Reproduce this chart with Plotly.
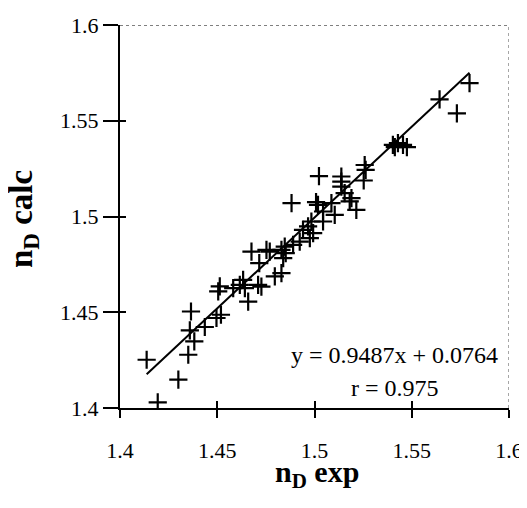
import plotly.graph_objects as go

# Data
nd_exp = [1.4137, 1.4194, 1.4300, 1.4351, 1.4365, 1.4359, 1.4382, 1.4436, 1.4496, 1.4519,
          1.4513, 1.4505, 1.4582, 1.4616, 1.4633, 1.4642, 1.4659, 1.4676, 1.4716, 1.4710,
          1.4727, 1.4753, 1.4770, 1.4796, 1.4830, 1.4830, 1.4847, 1.4852, 1.4839, 1.4882,
          1.4890, 1.4924, 1.4941, 1.4967, 1.4993, 1.4976, 1.4984, 1.5018, 1.5023, 1.5044,
          1.5044, 1.5087, 1.5104, 1.5138, 1.5138, 1.5138, 1.5155, 1.5181, 1.5190, 1.5215,
          1.5253, 1.5258, 1.5263, 1.5403, 1.5413, 1.5429, 1.5455, 1.5475, 1.5643, 1.5732,
          1.5797, 1.5008]
nd_calc = [1.4252, 1.4029, 1.4148, 1.4278, 1.4504, 1.4405, 1.4348, 1.4423, 1.4470, 1.4487,
           1.4635, 1.4609, 1.4626, 1.4643, 1.4669, 1.4626, 1.4556, 1.4817, 1.4757, 1.4643,
           1.4634, 1.4826, 1.4817, 1.4687, 1.4704, 1.4826, 1.4843, 1.4809, 1.4783, 1.5070,
           1.4852, 1.4869, 1.4930, 1.4948, 1.4913, 1.4887, 1.4974, 1.5061, 1.5211, 1.5026,
           1.4974, 1.5070, 1.5009, 1.5209, 1.5182, 1.5156, 1.5122, 1.5079, 1.5096, 1.5035,
           1.5188, 1.5269, 1.5243, 1.5374, 1.5362, 1.5383, 1.5374, 1.5362, 1.5612, 1.5539,
           1.5696, 1.5075]

fit_slope = 0.9487
fit_intercept = 0.0764
fit_x = [1.4137, 1.5797]
fit_y = [fit_slope * v + fit_intercept for v in fit_x]

tick_vals = [1.4, 1.45, 1.5, 1.55, 1.6]
tick_text = ["1.4", "1.45", "1.5", "1.55", "1.6"]

FONT = "Liberation Serif, Times New Roman, serif"

fig = go.Figure()
fig.add_trace(go.Scatter(x=fit_x, y=fit_y, mode="lines",
                         line=dict(color="black", width=2), hoverinfo="skip"))
fig.add_trace(go.Scatter(x=nd_exp, y=nd_calc, mode="markers",
                         marker=dict(symbol="cross-thin", size=13,
                                     line=dict(color="black", width=2.2))))
# dummy trace for the overlay axes (inside tick halves)
fig.add_trace(go.Scatter(x=[1.5], y=[1.5], xaxis="x2", yaxis="y2", mode="markers",
                         marker=dict(opacity=0), hoverinfo="skip"))

fig.add_annotation(x=1.5412, y=1.4278, text="y = 0.9487x + 0.0764", showarrow=False,
                   font=dict(family=FONT, size=24, color="black"), xanchor="center", yanchor="middle")
fig.add_annotation(x=1.5412, y=1.4106, text="r = 0.975", showarrow=False,
                   font=dict(family=FONT, size=24, color="black"), xanchor="center", yanchor="middle")

# axis titles
fig.add_annotation(x=0.507, y=-0.172, xref="paper", yref="paper",
                   text="<b>n<sub>D</sub> exp</b>", showarrow=False,
                   font=dict(family=FONT, size=30, color="black"),
                   xanchor="center", yanchor="middle")
fig.add_annotation(x=-0.2465, y=0.4935, xref="paper", yref="paper",
                   text="<b>n<sub>D</sub> calc</b>", showarrow=False, textangle=-90,
                   font=dict(family=FONT, size=33, color="black"),
                   xanchor="center", yanchor="middle")

# top and right frame (faint dotted)
fig.add_shape(type="line", x0=1.4, x1=1.6, y0=1.6, y1=1.6, xref="x", yref="y",
              line=dict(color="#555", width=1.5, dash="dot"))
fig.add_shape(type="line", x0=1.6, x1=1.6, y0=1.4, y1=1.6, xref="x", yref="y",
              line=dict(color="#888", width=1.5, dash="dot"))

# the page body adds an 8px offset, so the figure is sized/margined to compensate
fig.update_layout(
    width=519, height=500,
    margin=dict(l=112, r=17.5, t=17, b=99.7, autoexpand=False),
    paper_bgcolor="white", plot_bgcolor="white",
    showlegend=False,
    font=dict(family=FONT, size=22, color="black"),
    xaxis=dict(range=[1.4, 1.6], tickvals=tick_vals, ticktext=tick_text, automargin=False,
               showgrid=False, zeroline=False, showline=True, linecolor="black", linewidth=2,
               ticks="outside", ticklen=8, tickwidth=1.5, tickcolor="black",
               ticklabelstandoff=14),
    yaxis=dict(range=[1.4, 1.6], tickvals=tick_vals, ticktext=tick_text, automargin=False,
               showgrid=False, zeroline=False, showline=True, linecolor="black", linewidth=2,
               ticks="outside", ticklen=15, tickwidth=1.5, tickcolor="black"),
    xaxis2=dict(range=[1.4, 1.6], overlaying="x", anchor="y2", side="bottom", automargin=False,
                tickvals=tick_vals, showticklabels=False, showgrid=False, zeroline=False,
                showline=False, ticks="inside", ticklen=7, tickwidth=1.5, tickcolor="black"),
    yaxis2=dict(range=[1.4, 1.6], overlaying="y", anchor="x2", side="left", automargin=False,
                tickvals=tick_vals, showticklabels=False, showgrid=False, zeroline=False,
                showline=False, ticks="inside", ticklen=6, tickwidth=1.5, tickcolor="black"),
)

fig.write_html("out.html")
